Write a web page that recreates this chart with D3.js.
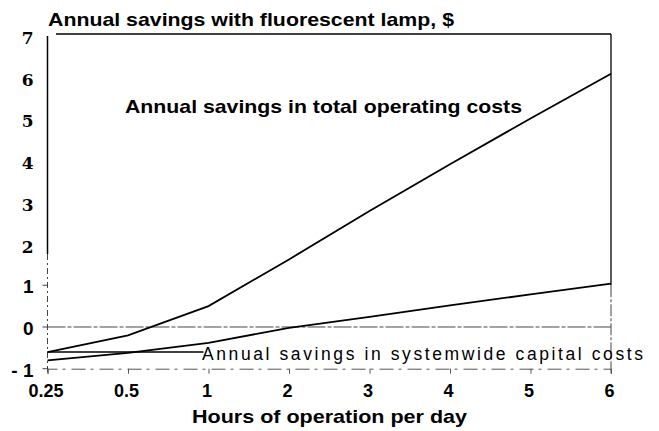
<!DOCTYPE html>
<html>
<head>
<meta charset="utf-8">
<script src="https://cdn.jsdelivr.net/npm/d3@7"></script>
<style>
  body { margin: 0; background: #fff; }
  text { font-family: "Liberation Sans", Arial, sans-serif; fill: #000; }
</style>
</head>
<body>
<div id="chart"></div>
<script>
const categories = ['0.25', '0.5', '1', '2', '3', '4', '5', '6'];
const totalSavings = [-0.6, -0.2, 0.5, 1.62, 2.78, 3.9, 5.0, 6.07];
const capitalSavings = [-0.8, -0.62, -0.38, -0.02, 0.24, 0.52, 0.78, 1.04];
const yTicks = [-1, 0, 1, 2, 3, 4, 5, 6, 7];
const leaderValue = -0.6;

const width = 659, height = 431;

const svg = d3.select('#chart').append('svg')
  .attr('width', width)
  .attr('height', height);

const x = d3.scalePoint()
  .domain(categories)
  .range([47.5, 611]);

const y = d3.scaleLinear()
  .domain([-1, 7])
  .range([368.7, 35]);

// frame: top and right border
svg.append('line')
  .attr('x1', 56).attr('x2', x('6'))
  .attr('y1', 34).attr('y2', 34)
  .attr('stroke', '#000').attr('stroke-width', 1.5);

svg.append('line')
  .attr('x1', x('6')).attr('x2', x('6'))
  .attr('y1', 34).attr('y2', y(1))
  .attr('stroke', '#000').attr('stroke-width', 1.3);
svg.append('line')
  .attr('x1', x('6')).attr('x2', x('6'))
  .attr('y1', y(1)).attr('y2', y(-1) + 5)
  .attr('stroke', '#444').attr('stroke-width', 1)
  .attr('stroke-dasharray', '12,2,3,2');

// left axis: solid upper part, broken lower part
svg.append('line')
  .attr('x1', x('0.25')).attr('x2', x('0.25'))
  .attr('y1', 36).attr('y2', y(1.75))
  .attr('stroke', '#000').attr('stroke-width', 1.5);
svg.append('line')
  .attr('x1', x('0.25')).attr('x2', x('0.25'))
  .attr('y1', y(1.75)).attr('y2', y(-1) + 4)
  .attr('stroke', '#444').attr('stroke-width', 1)
  .attr('stroke-dasharray', '6,3,2,3');

// zero line
svg.append('line')
  .attr('x1', x('0.25')).attr('x2', x('6'))
  .attr('y1', y(0)).attr('y2', y(0))
  .attr('stroke', '#444').attr('stroke-width', 1)
  .attr('stroke-dasharray', '18,2,4,2');

// X axis
const xAxis = svg.append('g')
  .attr('transform', `translate(0,${y(-1)})`)
  .call(d3.axisBottom(x).tickSize(5).tickPadding(11));
xAxis.select('.domain')
  .attr('stroke', '#555')
  .attr('stroke-dasharray', '14,5,3,6');
xAxis.selectAll('.tick line').attr('stroke', '#555');
xAxis.selectAll('.tick text')
  .style('font-size', '18px')
  .style('font-weight', 'bold')
  .attr('dx', '-2');

// Y axis
const yAxis = svg.append('g')
  .attr('transform', `translate(${x('0.25')},0)`)
  .call(d3.axisLeft(y).tickValues(yTicks).tickSize(0).tickPadding(14)
    .tickFormat(d => d < 0 ? '- ' + Math.abs(d) : d));
yAxis.select('.domain').remove();
yAxis.selectAll('.tick text')
  .attr('dy', d => d >= 2 ? '0.5em' : '0.4em')
  .style('font-weight', 'bold')
  .style('font-size', d => d >= 2 ? '17px' : '19px')
  .style('font-family', d => d >= 2 ? '"DejaVu Serif", serif' : '"Liberation Sans", Arial, sans-serif');

// small ticks on the lower part of the y axis
svg.append('g')
  .selectAll('line')
  .data(yTicks.filter(d => d <= 1))
  .enter()
  .append('line')
  .attr('x1', x('0.25') - 5).attr('x2', x('0.25'))
  .attr('y1', d => y(d)).attr('y2', d => y(d))
  .attr('stroke', '#444');

// series lines
const line = d3.line()
  .x((d, i) => x(categories[i]))
  .y(d => y(d));

svg.append('path')
  .datum(totalSavings)
  .attr('fill', 'none')
  .attr('stroke', '#000')
  .attr('stroke-width', 1.8)
  .attr('d', line);

svg.append('path')
  .datum(capitalSavings)
  .attr('fill', 'none')
  .attr('stroke', '#000')
  .attr('stroke-width', 1.8)
  .attr('d', line);

// leader line to the capital cost label
svg.append('line')
  .attr('x1', x('0.25')).attr('x2', x('1') - 5)
  .attr('y1', y(leaderValue)).attr('y2', y(leaderValue))
  .attr('stroke', '#000').attr('stroke-width', 1.6);

// title
svg.append('text')
  .attr('x', 48)
  .attr('y', 26)
  .attr('textLength', 406)
  .attr('lengthAdjust', 'spacingAndGlyphs')
  .style('font-size', '19px')
  .style('font-weight', 'bold')
  .text('Annual savings with fluorescent lamp, $');

// series labels
svg.append('text')
  .attr('x', 125)
  .attr('y', 113)
  .attr('textLength', 397)
  .attr('lengthAdjust', 'spacingAndGlyphs')
  .style('font-size', '19px')
  .style('font-weight', 'bold')
  .text('Annual savings in total operating costs');

svg.append('text')
  .attr('x', 202)
  .attr('y', 360)
  .attr('textLength', 441)
  .attr('lengthAdjust', 'spacing')
  .style('font-size', '17.5px')
  .text('Annual savings in systemwide capital costs');

// X label
svg.append('text')
  .attr('x', 192)
  .attr('y', 423)
  .attr('textLength', 275)
  .attr('lengthAdjust', 'spacingAndGlyphs')
  .style('font-size', '19px')
  .style('font-weight', 'bold')
  .text('Hours of operation per day');
</script>
</body>
</html>
